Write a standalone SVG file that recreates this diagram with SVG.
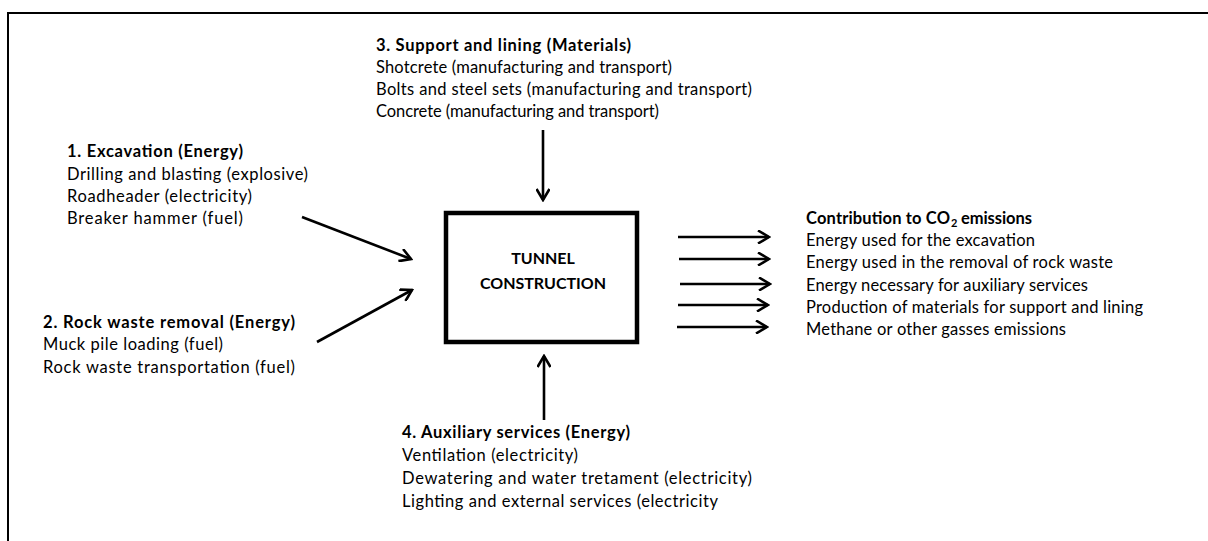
<svg xmlns="http://www.w3.org/2000/svg" width="1208" height="541" viewBox="0 0 1208 541">
<style>
text{font-family:Lato,"Liberation Sans",sans-serif;font-size:16.5px;fill:#000}
.b{font-weight:bold}
.t{font-size:16px}
.c{stroke:#000;stroke-width:2.6;fill:none}
</style>
<defs>
<marker id="ah" markerWidth="14" markerHeight="14" viewBox="-12 -7 14 14" refX="0" refY="0" orient="auto" markerUnits="userSpaceOnUse">
<path d="M-11,-6.5 L0,0 L-11,6.5" fill="none" stroke="#000" stroke-width="2.6"/>
</marker>
</defs>
<rect width="1208" height="541" fill="#fff"/>
<rect x="8" y="13" width="1400" height="700" fill="none" stroke="#000" stroke-width="2"/>
<g id="tunnel">
<rect x="446" y="213" width="191" height="129" fill="none" stroke="#000" stroke-width="4.5"/>
<text class="b t" x="543" y="264" text-anchor="middle">TUNNEL</text>
<text class="b t" x="543" y="289" text-anchor="middle">CONSTRUCTION</text>
</g>
<g id="excavation">
<text class="b" x="67" y="157" textLength="176">1. Excavation (Energy)</text>
<text x="67" y="180" textLength="241">Drilling and blasting (explosive)</text>
<text x="67" y="202" textLength="185">Roadheader (electricity)</text>
<text x="67" y="224" textLength="176">Breaker hammer (fuel)</text>
</g>
<g id="rockwaste">
<text class="b" x="43" y="328" textLength="252">2. Rock waste removal (Energy)</text>
<text x="43" y="350" textLength="180">Muck pile loading (fuel)</text>
<text x="43" y="373" textLength="252">Rock waste transportation (fuel)</text>
</g>
<g id="support">
<text class="b" x="376" y="51" textLength="255">3. Support and lining (Materials)</text>
<text x="376" y="73" textLength="296">Shotcrete (manufacturing and transport)</text>
<text x="376" y="95" textLength="376">Bolts and steel sets (manufacturing and transport)</text>
<text x="376" y="117" textLength="283">Concrete (manufacturing and transport)</text>
</g>
<g id="auxiliary">
<text class="b" x="402" y="438" textLength="228">4. Auxiliary services (Energy)</text>
<text x="402" y="461" textLength="176">Ventilation (electricity)</text>
<text x="402" y="484" textLength="350">Dewatering and water tretament (electricity)</text>
<text x="402" y="507" textLength="316">Lighting and external services (electricity</text>
</g>
<g id="emissions">
<text class="b" x="806" y="224"><tspan textLength="144">Contribution to CO</tspan><tspan x="951" dy="3" font-size="11">2</tspan><tspan x="961" dy="-3" textLength="71">emissions</tspan></text>
<text x="806" y="246" textLength="229">Energy used for the excavation</text>
<text x="806" y="268" textLength="307">Energy used in the removal of rock waste</text>
<text x="806" y="291" textLength="282">Energy necessary for auxiliary services</text>
<text x="806" y="313" textLength="337">Production of materials for support and lining</text>
<text x="806" y="335" textLength="260">Methane or other gasses emissions</text>
</g>
<g id="connectors">
<line class="c" x1="302" y1="217" x2="411" y2="259" marker-end="url(#ah)"/>
<line class="c" x1="317" y1="342" x2="412" y2="290" marker-end="url(#ah)"/>
<line class="c" x1="543" y1="130" x2="543" y2="200" marker-end="url(#ah)"/>
<line class="c" x1="544" y1="420" x2="544" y2="356" marker-end="url(#ah)"/>
<line class="c" x1="678" y1="237" x2="769" y2="237" marker-end="url(#ah)"/>
<line class="c" x1="679" y1="259" x2="769" y2="259" marker-end="url(#ah)"/>
<line class="c" x1="680" y1="284" x2="770" y2="284" marker-end="url(#ah)"/>
<line class="c" x1="678" y1="305" x2="768" y2="305" marker-end="url(#ah)"/>
<line class="c" x1="677" y1="327" x2="767" y2="327" marker-end="url(#ah)"/>
</g>
</svg>
